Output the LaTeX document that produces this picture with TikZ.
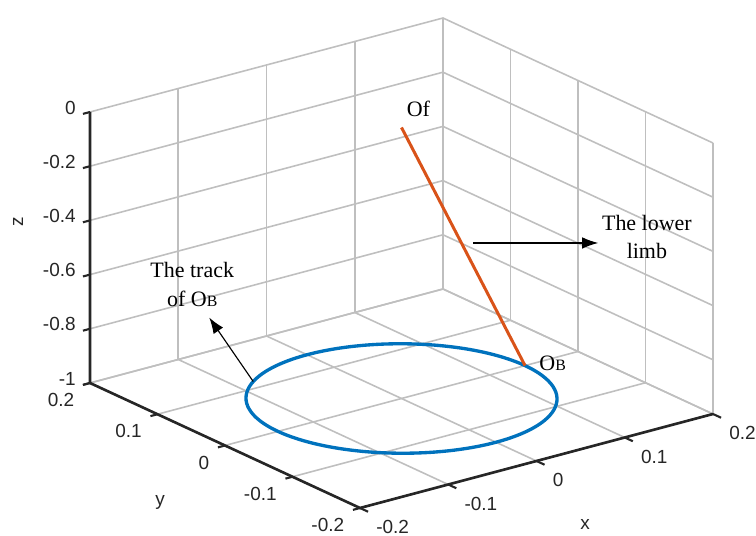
\documentclass[tikz,border=0pt]{standalone}
\usepackage{fontspec}
\setmainfont{Liberation Serif}
\newfontfamily\axisfont{Liberation Sans}
\usepackage{tikz}
\usetikzlibrary{positioning,arrows.meta}

\definecolor{mblue}{RGB}{0,114,189}
\definecolor{mred}{RGB}{217,83,25}
\definecolor{axgray}{RGB}{38,38,38}

\newcommand{\OB}{O{\fontsize{9}{9}\selectfont B}}

\begin{document}
\begin{tikzpicture}[x={(17.65cm,4.7cm)}, y={(-13.5cm,6.25cm)}, z={(0cm,5.42cm)}]
\tikzset{
  gridline/.style={draw=black!25, line width=0.9pt},
  axisline/.style={draw=axgray, line width=1.5pt},
  tickmark/.style={draw=axgray, line width=1.2pt},
  ticklabel/.style={font=\axisfont\fontsize{10.8}{12}\selectfont, text=axgray, inner sep=0pt},
  axlabel/.style={font=\axisfont\fontsize{10.8}{12}\selectfont, text=axgray},
  note/.style={align=center, font=\fontsize{12.5}{15.5}\selectfont, inner sep=2pt},
  track/.style={draw=mblue, line width=1.9pt},
  limb/.style={draw=mred, line width=1.7pt},
  pointer/.style={-{Latex[length=3.2mm,width=2.3mm]}, line width=0.65pt}
}
\useasboundingbox (-8.03cm,2.55cm) rectangle (7.09cm,-8.17cm);

% Grid
\foreach \g in {-0.2,-0.1,0,0.1,0.2} {
  \draw[gridline] (\g,-0.2,-1) -- (\g,0.2,-1);
  \draw[gridline] (-0.2,\g,-1) -- (0.2,\g,-1);
  \draw[gridline] (\g,0.2,-1) -- (\g,0.2,0);
  \draw[gridline] (0.2,\g,-1) -- (0.2,\g,0);
}
\foreach \h in {-1,-0.8,-0.6,-0.4,-0.2,0}
  \draw[gridline] (-0.2,0.2,\h) -- (0.2,0.2,\h) -- (0.2,-0.2,\h);

% Axes
\coordinate (zTop) at (-0.2,0.2,0);
\coordinate (zBot) at (-0.2,0.2,-1);
\coordinate (front) at (-0.2,-0.2,-1);
\coordinate (xEnd) at (0.2,-0.2,-1);
\draw[axisline] (zTop) -- (zBot) -- (front) -- (xEnd);

\foreach \t in {-1,-0.8,-0.6,-0.4,-0.2,0} {
  \draw[tickmark] (-0.2,0.2,\t) -- ++(-0.008,0,0);
  \node[ticklabel, anchor=east, xshift=-0.28cm, yshift=0.09cm] at (-0.2,0.2,\t) {\t};
}
\foreach \t in {-0.2,-0.1,0,0.1,0.2} {
  \draw[tickmark] (-0.2,\t,-1) -- ++(-0.008,0,0);
  \node[ticklabel, anchor=east, xshift=-0.31cm, yshift=-0.34cm] at (-0.2,\t,-1) {\t};
  \draw[tickmark] (\t,-0.2,-1) -- ++(0,-0.012,0);
  \node[ticklabel, anchor=west, xshift=0.32cm, yshift=-0.38cm] at (\t,-0.2,-1) {\t};
}
\node[axlabel, xshift=0.97cm, yshift=-1.26cm] (xlab) at (0,-0.2,-1) {x};
\node[axlabel, xshift=-1.30cm, yshift=-1.13cm] (ylab) at (-0.2,0,-1) {y};
\node[axlabel, rotate=90, xshift=0.51cm, yshift=1.44cm] (zlab) at (-0.2,0.2,-0.5) {z};

% Track and limb
\draw[track] plot[variable=\a, domain=0:360, samples=120, smooth] ({0.14*cos(\a)}, {0.14*sin(\a)}, -1);
\coordinate (Of) at (0,0,0);
\coordinate (OB) at (0.14,0,-1);
\coordinate (trackPt) at ({0.14*cos(125)},{0.14*sin(125)},-1);
\draw[limb] (Of) -- (OB) coordinate[pos=0.485] (limbPt);

% Labels
\node[note, above right=0.13cm and 0.03cm of Of] (OfLabel) {Of};
\node[note, right=0.21cm of OB, yshift=0.04cm] (OBLabel) {\OB};
\node[note] (trackLabel) at ([shift={(-1.22cm,1.94cm)}]trackPt) {The track\\[1.5pt]of \OB};
\node[note] (limbLabel) at ([shift={(3.71cm,0.12cm)}]limbPt) {The lower\\limb};

% Arrows
\draw[pointer] (trackPt) -- ([xshift=0.34cm, yshift=-0.13cm]trackLabel.south);
\draw[pointer] ([xshift=0.24cm]limbPt) -- (limbPt -| limbLabel.west);
\end{tikzpicture}
\end{document}
